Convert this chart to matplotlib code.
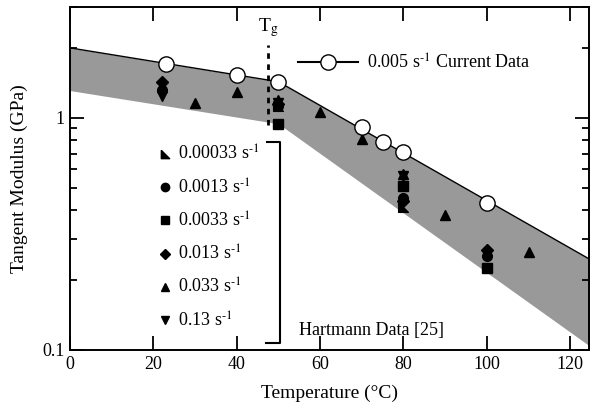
import matplotlib
matplotlib.use('Agg')
import matplotlib.pyplot as plt
from matplotlib.lines import Line2D

plt.rcParams['font.family'] = ['Liberation Serif', 'DejaVu Serif']
plt.rcParams['mathtext.fontset'] = 'stix'
plt.rcParams['font.size'] = 13

# band limits (fit lines)
band_T = [0, 50, 125]
band_upper = [2.0, 1.43, 0.244]
band_lower = [1.31, 0.943, 0.103]

# current data, 0.005 1/s
current_T = [23, 40, 50, 70, 75, 80, 100]
current_E = [1.71, 1.53, 1.42, 0.915, 0.79, 0.71, 0.43]

# Hartmann data [25]
rates = ['0.00033', '0.0013', '0.0033', '0.013', '0.033', '0.13']
h_T = [
    [50, 80],
    [22, 50, 80, 100],
    [50, 80, 100],
    [22, 50, 80, 100],
    [30, 40, 50, 60, 70, 80, 90, 110],
    [22, 50, 80],
]
h_E = [
    [1.12, 0.413],
    [1.32, 1.12, 0.452, 0.255],
    [0.94, 0.51, 0.226],
    [1.42, 1.15, 0.44, 0.27],
    [1.16, 1.29, 1.19, 1.06, 0.81, 0.575, 0.382, 0.264],
    [1.24, 1.16, 0.56],
]
corner_tri = [(-1, 1), (-1, -1), (1, -1), (-1, 1)]
h_markers = [corner_tri, 'o', 's', 'D', '^', 'v']
h_sizes = [7, 7, 7, 6, 7, 7]

Tg = 47.5
Tg_range = [0.93, 2.06]


def main():
    fig = plt.figure(figsize=(5.9, 4.12), dpi=100)
    ax = fig.add_axes([70 / 590, 1 - 350 / 412, 519 / 590, 343 / 412])

    ax.fill_between(band_T, band_lower, band_upper, color='#999999', lw=0, zorder=1)
    ax.plot(band_T, band_upper, color='black', lw=1.0, zorder=2)

    for T, E, m, s in zip(h_T, h_E, h_markers, h_sizes):
        ax.plot(T, E, ls='none', marker=m, ms=s, color='black', mec='black', zorder=3)

    ax.plot(current_T, current_E, ls='none', marker='o', ms=11, mfc='white',
            mec='black', mew=1.0, zorder=4)

    ax.plot([Tg, Tg], Tg_range, ls=(0, (2, 2)), color='black', lw=2, zorder=5)
    ax.text(Tg, 2.45, r'T$_{\mathrm{g}}$', ha='center', va='center', fontsize=14)

    ax.set_yscale('log')
    ax.set_xlim(0, 124.5)
    ax.set_ylim(0.1, 3.0)
    ax.set_xticks([0, 20, 40, 60, 80, 100, 120])
    ax.set_yticks([0.1, 1])
    ax.set_yticklabels(['0.1', '1'])
    ax.tick_params(which='both', direction='in', top=True, right=True, width=1.3)
    ax.tick_params(which='major', length=10, labelsize=13, pad=4)
    ax.tick_params(which='minor', length=5)
    for sp in ax.spines.values():
        sp.set_linewidth(1.4)

    ax.set_xlabel('Temperature (°C)', fontsize=14, labelpad=9)
    ax.set_ylabel('Tangent Modulus (GPa)', fontsize=14, labelpad=10)

    # legend for current data
    h1 = Line2D([], [], color='black', lw=1.5, marker='o', ms=11, mfc='white', mec='black')
    leg1 = ax.legend([h1], [r'0.005 s$^{\text{-1}}$ Current Data'], loc='center left',
                     bbox_to_anchor=((298 - 70) / 519, 1 - (63 - 7) / 343),
                     frameon=False, handlelength=3.3, handletextpad=0.5,
                     borderpad=0, borderaxespad=0, fontsize=13)
    ax.add_artist(leg1)

    # legend for Hartmann data
    hs = [Line2D([], [], ls='none', marker=m, ms=s - 1, color='black') for m, s in zip(h_markers, h_sizes)]
    labels = [r + r' s$^{\text{-1}}$' for r in rates]
    ax.legend(hs, labels, loc='upper left',
              bbox_to_anchor=((158 - 70) / 519, 1 - (145 - 7) / 343),
              frameon=False, handlelength=0.8, handletextpad=0.3, labelspacing=0.78,
              borderpad=0, borderaxespad=0, fontsize=13)

    bx = [(267 - 70) / 519, (280 - 70) / 519, (280 - 70) / 519, (266 - 70) / 519]
    by = [1 - (142 - 7) / 343, 1 - (142 - 7) / 343, 1 - (343 - 7) / 343, 1 - (343 - 7) / 343]
    ax.plot(bx, by, color='black', lw=1.5, transform=ax.transAxes, clip_on=False)
    ax.text((299 - 70) / 519, 1 - (330 - 7) / 343, 'Hartmann Data [25]', transform=ax.transAxes,
            ha='left', va='center', fontsize=13)

    fig.savefig('out.png', dpi=100)


if __name__ == '__main__':
    main()
